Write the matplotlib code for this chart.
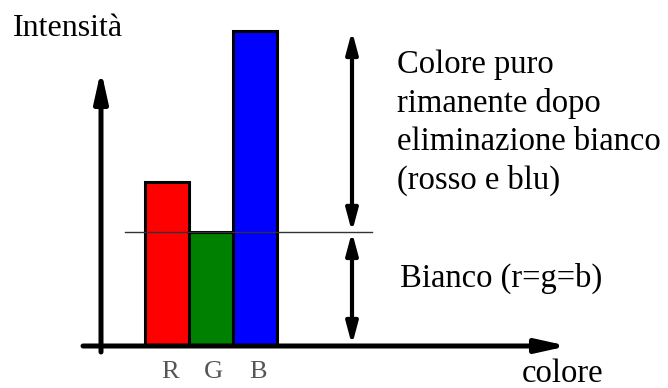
import matplotlib
matplotlib.use("Agg")
import matplotlib.pyplot as plt
import matplotlib.transforms as mtransforms

# data
channels = ["R", "G", "B"]
intensity = [52, 36, 100]
bar_colors = ["#ff0000", "#008000", "#0000ff"]
white_level = min(intensity)  # r = g = b

y_label = "Intensità"
x_label = "colore"
pure_label = "Colore puro\nrimanente dopo\neliminazione bianco\n(rosso e blu)"
white_label = "Bianco (r=g=b)"

W, H = 668, 388
plt.rcParams["font.family"] = ["Liberation Serif", "DejaVu Serif"]

fig = plt.figure(figsize=(W / 100, H / 100), dpi=100)
ax = fig.add_axes([0, 0, 1, 1])
ax.set_axis_off()

# map: bar slot 1 unit = 44 px, left edge of R at 145 px, baseline at 345 px
ax.set_xlim(-0.5 - 145 / 44, -0.5 + (W - 145) / 44)
ax.set_ylim(-(H - 345) / 3.14, 345 / 3.14)

def fx(px):
    return px / W

def fy(px):
    return 1 - px / H

xs = list(range(len(channels)))
ax.bar(xs, intensity, width=1.0, color=bar_colors, edgecolor="black",
       linewidth=2.2, zorder=2)

# white level line
ax.plot([fx(125), fx(372)], [white_level, white_level], color="#333333",
        lw=1.0, transform=mtransforms.blended_transform_factory(ax.transAxes, ax.transData),
        zorder=3)

# axes with arrows
ax.annotate("", xy=(fx(568), fy(346)), xytext=(fx(83), fy(346)),
            xycoords="axes fraction", textcoords="axes fraction",
            arrowprops=dict(arrowstyle="-|>,head_length=18,head_width=4",
                            mutation_scale=1, lw=3.6, color="black",
                            shrinkA=0, shrinkB=0), zorder=4)
ax.annotate("", xy=(fx(101), fy(70)), xytext=(fx(101), fy(352)),
            xycoords="axes fraction", textcoords="axes fraction",
            arrowprops=dict(arrowstyle="-|>,head_length=18,head_width=4",
                            mutation_scale=1, lw=3.6, color="black",
                            shrinkA=0, shrinkB=0), zorder=4)

# double arrows on the right
blend = ("axes fraction", "data")
for y0, y1 in [(white_level, max(intensity)), (0, white_level)]:
    ax.annotate("", xy=(fx(352), y1), xytext=(fx(352), y0),
                xycoords=blend, textcoords=blend,
                arrowprops=dict(arrowstyle="<|-|>,head_length=13,head_width=3.5",
                                mutation_scale=1, lw=3.0, color="black",
                                shrinkA=0, shrinkB=0), zorder=4)

# texts
ax.text(fx(13), fy(36), y_label, transform=ax.transAxes, fontsize=23,
        va="baseline", ha="left")
for i, line in enumerate(pure_label.split("\n")):
    ax.text(fx(397), fy(73 + 38.7 * i), line, transform=ax.transAxes,
            fontsize=23.5, va="baseline", ha="left")
ax.text(fx(400), fy(287), white_label, transform=ax.transAxes, fontsize=23.5,
        va="baseline", ha="left")
ax.text(fx(522), fy(382), x_label, transform=ax.transAxes, fontsize=23.5,
        va="baseline", ha="left")

tick_tr = mtransforms.blended_transform_factory(ax.transData, ax.transAxes)
for x, lab in zip(xs, channels):
    ax.text(x + 0.06, fy(378), lab, transform=tick_tr, fontsize=19,
            color="#555555", ha="center", va="baseline")

fig.savefig("out.png", dpi=100)
